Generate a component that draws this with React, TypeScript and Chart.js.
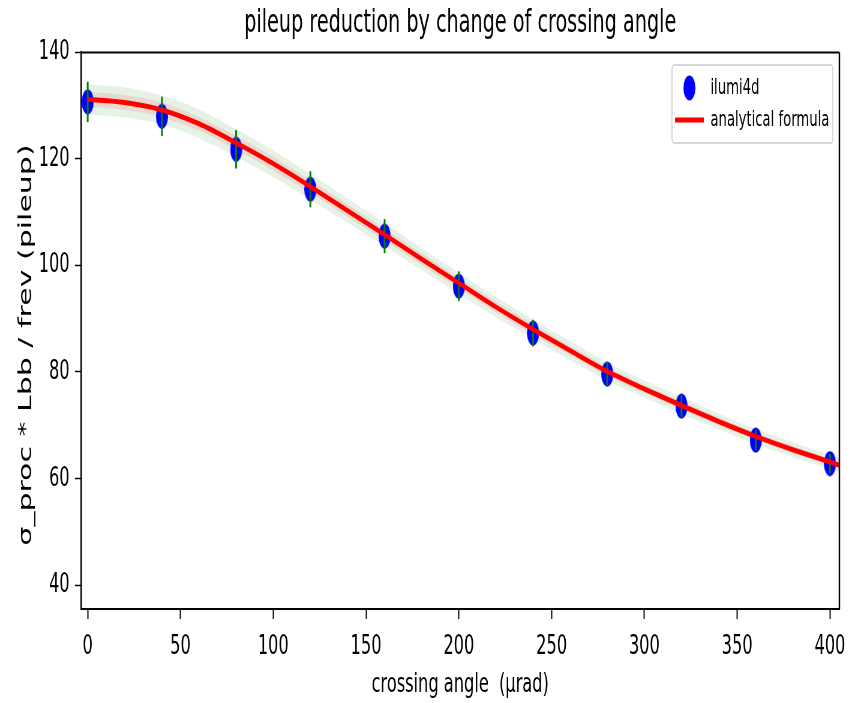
import React, { useEffect, useRef } from 'react';
import { Chart, registerables } from 'chart.js';

Chart.register(...registerables);

// ---- data ----
const angles = [0, 40, 80, 120, 160, 200, 240, 280, 320, 360, 400];
const ilumiValues = [130.7, 128.0, 121.8, 114.3, 105.5, 96.1, 87.3, 79.6, 73.6, 67.2, 62.8];
const ilumiErrors = [3.8, 3.7, 3.6, 3.4, 3.2, 2.8, 2.5, 2.3, 2.1, 1.9, 1.8];

const formulaAngles = [0, 20, 40, 60, 80, 100, 120, 140, 160, 180, 200, 220, 240, 260, 280, 300, 320, 340, 360, 380, 400, 405];
const formulaValues = [131.2, 130.6, 129.2, 126.6, 123.0, 119.1, 114.8, 110.3, 105.8, 101.2, 96.7, 92.2, 88.0, 84.0, 80.1, 76.8, 73.7, 70.7, 67.9, 65.4, 63.1, 62.5];
const outerBand = [2.8, 2.8, 2.7, 2.7, 2.6, 2.5, 2.4, 2.3, 2.2, 2.1, 2.0, 1.9, 1.9, 1.8, 1.7, 1.6, 1.6, 1.5, 1.4, 1.4, 1.3, 1.3];
const innerBand = [1.4, 1.4, 1.4, 1.3, 1.3, 1.3, 1.2, 1.2, 1.1, 1.1, 1.0, 1.0, 1.0, 0.9, 0.9, 0.8, 0.8, 0.8, 0.7, 0.7, 0.7, 0.7];

const xTicks = [0, 50, 100, 150, 200, 250, 300, 350, 400];
const yTicks = [40, 60, 80, 100, 120, 140];

const titleText = 'pileup reduction by change of crossing angle';
const xTitle = 'crossing angle  (\u03bcrad)';
const yTitle = '\u03c3_proc * Lbb / frev (pileup)';
const seriesNames = ['ilumi4d', 'analytical formula'];

// internal canvas is drawn wider and squeezed horizontally to the 852px display (like the reference image)
const INTERNAL_W = 1420;
const INTERNAL_H = 703;
const MARKER_INDEX = 4;

export default function App() {
  const ref = useRef<HTMLCanvasElement>(null);

  useEffect(() => {
    const canvas = ref.current;
    if (!canvas) return;

    Chart.defaults.font.family = "'DejaVu Sans', sans-serif";
    Chart.defaults.color = '#000';

    const marker = document.createElement('canvas');
    marker.width = 20;
    marker.height = 26;
    const mctx = marker.getContext('2d')!;
    mctx.fillStyle = '#0000ff';
    mctx.beginPath();
    mctx.ellipse(10, 13, 10, 12.5, 0, 0, Math.PI * 2);
    mctx.fill();

    const curve = (arr: number[], sign: number) =>
      formulaAngles.map((a, i) => ({ x: a, y: formulaValues[i] + sign * arr[i] }));

    const errorBarPlugin = {
      id: 'errorBars',
      afterDatasetDraw(chart: any, args: any) {
        if (args.index !== MARKER_INDEX) return;
        const { ctx } = chart;
        const xs = chart.scales.x;
        const ys = chart.scales.y;
        ctx.save();
        ctx.strokeStyle = '#008000';
        ctx.lineWidth = 3;
        angles.forEach((a, i) => {
          const px = xs.getPixelForValue(a);
          ctx.beginPath();
          ctx.moveTo(px, ys.getPixelForValue(ilumiValues[i] - ilumiErrors[i]));
          ctx.lineTo(px, ys.getPixelForValue(ilumiValues[i] + ilumiErrors[i]));
          ctx.stroke();
        });
        ctx.restore();
      },
    };

    const framePlugin = {
      id: 'frame',
      afterLayout(chart: any) {
        const lg = chart.legend;
        const ca = chart.chartArea;
        if (!lg || !ca) return;
        lg.left = ca.right - 284;
        lg.right = ca.right;
        lg.top = ca.top + 14.6;
        lg.width = lg.right - lg.left;
        lg.height = lg.bottom - lg.top;
      },
      afterDraw(chart: any) {
        const { ctx, chartArea: ca } = chart;
        ctx.save();
        ctx.strokeStyle = '#000';
        ctx.lineWidth = 2;
        ctx.beginPath();
        ctx.moveTo(ca.left, ca.top);
        ctx.lineTo(ca.right, ca.top);
        ctx.stroke();
        ctx.lineWidth = 2.5;
        ctx.beginPath();
        ctx.moveTo(ca.right, ca.top);
        ctx.lineTo(ca.right, ca.bottom);
        ctx.stroke();
        // legend frame
        ctx.strokeStyle = '#cccccc';
        ctx.lineWidth = 1.5;
        ctx.beginPath();
        (ctx as any).roundRect(ca.right - 279, ca.top + 12.7, 268, 78, 4);
        ctx.stroke();
        ctx.restore();
      },
    };

    const smooth = { cubicInterpolationMode: 'monotone' as const };

    const chart = new Chart(canvas, {
      type: 'line',
      data: {
        datasets: [
          {
            label: 'outer upper',
            data: curve(outerBand, 1),
            borderWidth: 0,
            borderColor: 'transparent',
            pointRadius: 0,
            fill: '+1',
            backgroundColor: 'rgba(0,128,0,0.1)',
            order: 5,
            ...smooth,
          },
          {
            label: 'outer lower',
            data: curve(outerBand, -1),
            borderWidth: 0,
            borderColor: 'transparent',
            pointRadius: 0,
            fill: false,
            order: 5,
            ...smooth,
          },
          {
            label: 'inner upper',
            data: curve(innerBand, 1),
            borderWidth: 0,
            borderColor: 'transparent',
            pointRadius: 0,
            fill: '+1',
            backgroundColor: 'rgba(255,0,0,0.1)',
            order: 4,
            ...smooth,
          },
          {
            label: 'inner lower',
            data: curve(innerBand, -1),
            borderWidth: 0,
            borderColor: 'transparent',
            pointRadius: 0,
            fill: false,
            order: 4,
            ...smooth,
          },
          {
            label: seriesNames[0],
            data: angles.map((a, i) => ({ x: a, y: ilumiValues[i] })),
            showLine: false,
            pointStyle: marker as any,
            pointRadius: 12,
            backgroundColor: '#0000ff',
            borderColor: '#0000ff',
            borderWidth: 0,
            order: 2,
          },
          {
            label: seriesNames[1],
            data: formulaAngles.map((a, i) => ({ x: a, y: formulaValues[i] })),
            borderColor: '#ff0000',
            backgroundColor: '#ff0000',
            borderWidth: 5,
            pointRadius: 0,
            pointStyle: 'line',
            fill: false,
            order: 1,
            ...smooth,
          },
        ],
      },
      options: {
        responsive: false,
        maintainAspectRatio: false,
        devicePixelRatio: 1,
        animation: false,
        events: [],
        layout: { padding: { top: 0, right: 21, bottom: 0, left: 0 } },
        scales: {
          x: {
            type: 'linear',
            min: -3.6,
            max: 405.1,
            afterBuildTicks: (s: any) => {
              s.ticks = xTicks.map((v) => ({ value: v }));
            },
            afterFit: (s: any) => {
              s.height = 94;
              s.paddingLeft = 0;
              s.paddingRight = 0;
            },
            grid: { drawOnChartArea: false, drawTicks: true, tickLength: 10, tickWidth: 2, tickColor: '#000' },
            border: { display: true, color: '#000', width: 2 },
            ticks: { color: '#000', font: { size: 27 }, padding: 12, maxRotation: 0, autoSkip: false },
            title: { display: true, text: xTitle, color: '#000', font: { size: 27 }, padding: { top: 0, bottom: 2 } },
          },
          y: {
            type: 'linear',
            min: 35.5,
            max: 140,
            afterBuildTicks: (s: any) => {
              s.ticks = yTicks.map((v) => ({ value: v }));
            },
            afterFit: (s: any) => {
              s.width = 135;
              s.paddingTop = 0;
              s.paddingBottom = 0;
            },
            grid: { drawOnChartArea: false, drawTicks: true, tickLength: 10, tickWidth: 1.5, tickColor: '#000' },
            border: { display: true, color: '#000', width: 2.5 },
            ticks: { color: '#000', font: { size: 27 }, padding: 9, autoSkip: false },
            title: {
              display: true,
              text: yTitle + '\u00a0\u00a0\u00a0',
              color: '#000',
              font: { size: 30 },
              padding: { top: 26, bottom: 0 },
            },
          },
        },
        plugins: {
          title: {
            display: true,
            text: titleText,
            fullSize: false,
            color: '#000',
            font: { size: 32, weight: 'normal' },
            padding: { top: 4, bottom: 10 },
          },
          legend: {
            display: true,
            position: 'chartArea' as any,
            align: 'start',
            labels: {
              usePointStyle: true,
              pointStyleWidth: 48,
              boxHeight: 16,
              padding: 10,
              color: '#000',
              font: { size: 22 },
              filter: (item: any) => item.datasetIndex >= MARKER_INDEX,
              sort: (a: any, b: any) => a.datasetIndex - b.datasetIndex,
              generateLabels: (ch: any) => {
                const items = (Chart.defaults.plugins.legend.labels as any).generateLabels(ch);
                items.forEach((it: any) => {
                  if (it.datasetIndex === MARKER_INDEX) it.pointStyle = marker;
                });
                return items;
              },
            },
          },
          tooltip: { enabled: false },
        },
      } as any,
      plugins: [errorBarPlugin, framePlugin],
    });

    return () => chart.destroy();
  }, []);

  return (
    <div style={{ position: 'absolute', left: 0, top: 0, width: 852, height: 703 }}>
      <canvas
        ref={ref}
        width={INTERNAL_W}
        height={INTERNAL_H}
        style={{ width: '852px', height: '703px', display: 'block' }}
      />
    </div>
  );
}
